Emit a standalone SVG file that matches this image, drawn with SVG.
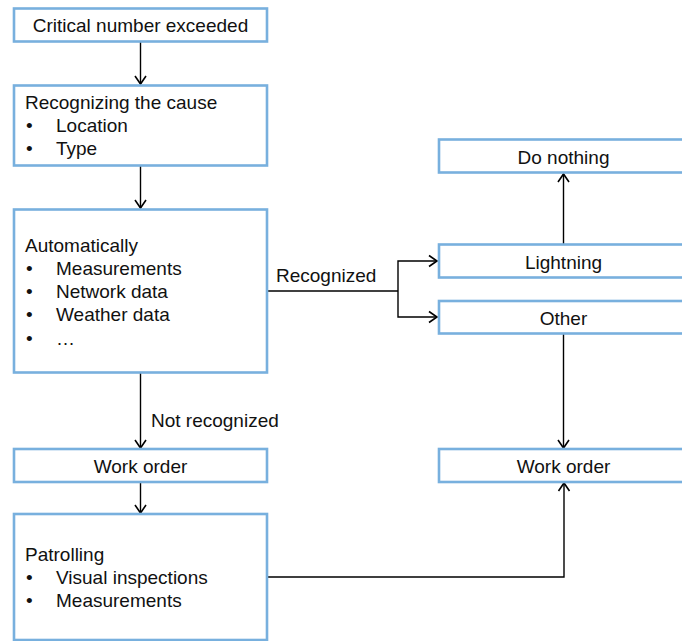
<svg xmlns="http://www.w3.org/2000/svg" width="682" height="641" viewBox="0 0 682 641">
<defs>
<marker id="arr" markerUnits="userSpaceOnUse" markerWidth="20" markerHeight="20" refX="0" refY="0" viewBox="-10 -10 20 20" orient="auto" overflow="visible">
<path d="M-8,-5.5 L0,0 L-8,5.5" fill="none" stroke="#000" stroke-width="1.6"/>
</marker>
<style>
.box{fill:#fff;stroke:#78b0de;stroke-width:2.6}
.t{font-family:"Liberation Sans",Arial,sans-serif;font-size:19px;fill:#111}
.c{text-anchor:middle}
.ln{fill:none;stroke:#000;stroke-width:1.4}
</style>
</defs>
<rect width="682" height="641" fill="#fff"/>
<g id="connectors">
<line class="ln" x1="140.5" y1="42" x2="140.5" y2="84" marker-end="url(#arr)"/>
<line class="ln" x1="140.5" y1="166" x2="140.5" y2="208" marker-end="url(#arr)"/>
<line class="ln" x1="140.5" y1="373" x2="140.5" y2="448" marker-end="url(#arr)"/>
<line class="ln" x1="140.5" y1="483" x2="140.5" y2="513" marker-end="url(#arr)"/>
<polyline class="ln" points="267,291 398,291"/>
<polyline class="ln" points="398,291 398,261 437,261" marker-end="url(#arr)"/>
<polyline class="ln" points="398,291 398,317 437,317" marker-end="url(#arr)"/>
<line class="ln" x1="563.5" y1="244" x2="563.5" y2="174" marker-end="url(#arr)"/>
<line class="ln" x1="563.5" y1="334" x2="563.5" y2="448" marker-end="url(#arr)"/>
<polyline class="ln" points="267,577 564,577 564,483" marker-end="url(#arr)"/>
<text class="t" x="276" y="282">Recognized</text>
<text class="t" x="151" y="427">Not recognized</text>
</g>
<g id="critical">
<rect class="box" x="14" y="8.5" width="253" height="33"/>
<text class="t c" x="140.5" y="32">Critical number exceeded</text>
</g>
<g id="recognizing">
<rect class="box" x="14" y="85.5" width="253" height="80"/>
<text class="t" x="25" y="109">Recognizing the cause</text>
<text class="t" x="26" y="132">•</text><text class="t" x="56" y="132">Location</text>
<text class="t" x="26" y="155">•</text><text class="t" x="56" y="155">Type</text>
</g>
<g id="automatically">
<rect class="box" x="14" y="209.5" width="253" height="163"/>
<text class="t" x="25" y="252">Automatically</text>
<text class="t" x="26" y="275">•</text><text class="t" x="56" y="275">Measurements</text>
<text class="t" x="26" y="298">•</text><text class="t" x="56" y="298">Network data</text>
<text class="t" x="26" y="321">•</text><text class="t" x="56" y="321">Weather data</text>
<text class="t" x="26" y="345">•</text><text class="t" x="56" y="345">…</text>
</g>
<g id="workorder-left">
<rect class="box" x="14" y="449" width="253" height="33"/>
<text class="t c" x="140.5" y="473">Work order</text>
</g>
<g id="patrolling">
<rect class="box" x="14" y="514" width="253" height="126"/>
<text class="t" x="25" y="561">Patrolling</text>
<text class="t" x="26" y="584">•</text><text class="t" x="56" y="584">Visual inspections</text>
<text class="t" x="26" y="607">•</text><text class="t" x="56" y="607">Measurements</text>
</g>
<g id="donothing">
<rect class="box" x="439" y="139.5" width="249" height="33"/>
<text class="t c" x="563.5" y="164">Do nothing</text>
</g>
<g id="lightning">
<rect class="box" x="439" y="244.5" width="249" height="33"/>
<text class="t c" x="563.5" y="269">Lightning</text>
</g>
<g id="other">
<rect class="box" x="439" y="301" width="249" height="32.5"/>
<text class="t c" x="563.5" y="325">Other</text>
</g>
<g id="workorder-right">
<rect class="box" x="439" y="449" width="249" height="33"/>
<text class="t c" x="563.5" y="473">Work order</text>
</g>
</svg>
